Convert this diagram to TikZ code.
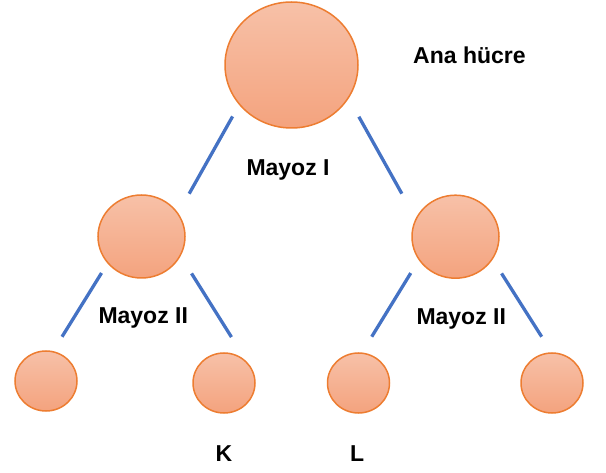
\documentclass[tikz,border=0pt]{standalone}
\usepackage{fontspec}
\setmainfont{Liberation Sans}
\usetikzlibrary{shapes.geometric}
\definecolor{cellline}{HTML}{ED7D31}
\definecolor{celltop}{HTML}{F7C1A8}
\definecolor{cellbot}{HTML}{F4A37E}
\definecolor{branchblue}{HTML}{4472C4}
\begin{document}
\begin{tikzpicture}[x=1pt,y=-1pt,
    cell/.style ={ellipse, draw=cellline, line width=1.5pt, top color=celltop, bottom color=cellbot, inner sep=0pt, outer sep=0pt},
    bigcell/.style ={minimum width=133pt, minimum height=126pt},
    midcell/.style ={minimum width=87pt, minimum height=83pt},
    leafcell/.style ={minimum width=62pt, minimum height=60pt},
    branch/.style ={line width=3.3pt, draw=branchblue},
    txt/.style ={anchor=base west, inner sep=0pt, font=\bfseries\fontsize{23}{28}\selectfont}]
   \useasboundingbox (0,0) rectangle (606,473);

   \node[cell,bigcell] (A)  at (291.5,65)  {};
   \node[cell,midcell] (B)  at (141.5,236.5)  {};
   \node[cell,midcell] (C)  at (455.5,236.7)  {};
   \node[cell,leafcell] (D)  at (46,381)  {};
   \node[cell,leafcell] (E)  at (224,383)  {};
   \node[cell,leafcell] (F)  at (358.5,383)  {};
   \node[cell,leafcell] (G)  at (552,383)  {};

   \draw[branch,shorten <=14pt,shorten >=23pt] (A.217.3) to (B.32.7);
   \draw[branch,shorten <=21.7pt,shorten >=29.2pt] (A.330.1) to (C.156.5);
   \draw[branch,shorten <=12pt,shorten >=17.6pt] (B.218.6) to (D.77.9);
   \draw[branch,shorten <=21.3pt,shorten >=35pt] (B.334.2) to (E.32.3);
   \draw[branch,shorten <=16pt,shorten >=19.3pt] (C.212.2) to (F.84.1);
   \draw[branch,shorten <=17.3pt,shorten >=19.3pt] (C.329.3) to (G.90);

   \node[txt] (ana) at (413,64) {Ana hücre};
   \node[txt] (mayozI) at (246.3,176) {Mayoz I};
   \node[txt] (mayozIIa) at (98.3,324) {Mayoz II};
   \node[txt] (mayozIIb) at (416.3,325) {Mayoz II};
   \node[txt] (K) at (215.3,462) {K};
   \node[txt] (L) at (350,462) {L};
 \end{tikzpicture}
\end{document}
